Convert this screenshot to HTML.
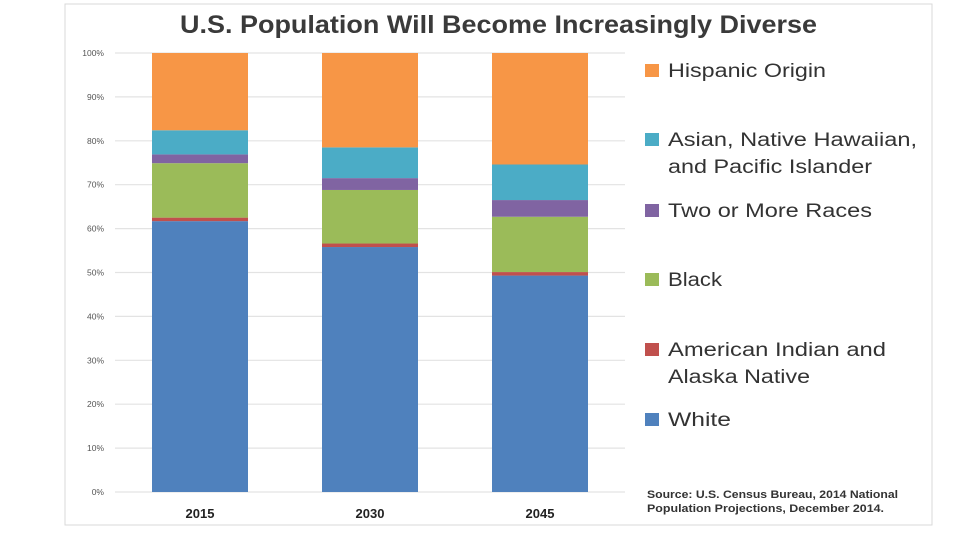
<!DOCTYPE html>
<html><head><meta charset="utf-8"><style>
body{margin:0;background:#fff;width:960px;height:540px;overflow:hidden;font-family:"Liberation Sans",sans-serif}
</style></head><body>
<svg width="960" height="540">
<rect x="65" y="4" width="867" height="521" fill="#fff" stroke="#d9d9d9"/>
<text x="180" y="33" font-size="25" font-weight="bold" fill="#3a3a3a" textLength="637" lengthAdjust="spacingAndGlyphs">U.S. Population Will Become Increasingly Diverse</text>
<g id="grid"></g><g id="bars"></g><g id="legend"></g>
<text x="647" y="498" font-size="11" font-weight="bold" fill="#333" textLength="251" lengthAdjust="spacingAndGlyphs">Source: U.S. Census Bureau, 2014 National</text>
<text x="647" y="512" font-size="11" font-weight="bold" fill="#333" textLength="237" lengthAdjust="spacingAndGlyphs">Population Projections, December 2014.</text>
</svg>
<script>
const years=["2015","2030","2045"];
const white=[61.7,55.8,49.3];
const amIndian=[0.8,0.8,0.8];
const black=[12.4,12.2,12.6];
const twoMore=[2.0,2.7,3.8];
const asian=[5.5,7.0,8.1];
const hispanic=[17.6,21.5,25.4];
const yTicks=[0,10,20,30,40,50,60,70,80,90,100];
const seriesNames=["White","American Indian and Alaska Native","Black","Two or More Races","Asian, Native Hawaiian, and Pacific Islander","Hispanic Origin"];
const colors=["#4f81bd","#c0504d","#9bbb59","#8064a2","#4bacc6","#f79646"];
const series=[white,amIndian,black,twoMore,asian,hispanic];
const ns="http://www.w3.org/2000/svg";
const y=v=>492-v*4.39;
const xc=i=>200+i*170;
const bw=96;
function mk(tag,attrs,parent){const e=document.createElementNS(ns,tag);for(const k in attrs)e.setAttribute(k,attrs[k]);parent.appendChild(e);return e;}
const grid=document.getElementById('grid');
yTicks.forEach(t=>{
 const l=mk('line',{x1:115,x2:625,y1:y(t),y2:y(t),stroke:'#e3e3e3','stroke-width':1.2},grid);
 
 
 const tx=mk('text',{x:104,y:y(t)+3,'text-anchor':'end','font-size':8.5,fill:'#555'},grid);
 tx.textContent=t+'%';
 
 
});
const bars=document.getElementById('bars');
years.forEach((yr,i)=>{
 let cum=0;
 series.forEach((s,j)=>{
  const r=mk('rect',{x:xc(i)-bw/2,y:y(cum+s[i]),width:bw,height:s[i]*4.39,fill:colors[j]},bars);
  
  
  cum+=s[i];
 });
 const t=mk('text',{x:xc(i),y:518,'text-anchor':'middle','font-size':13,'font-weight':'bold',fill:'#222'},bars);
 t.textContent=yr;
 
 
});
const legend=document.getElementById('legend');
const legItems=[[5,["Hispanic Origin"],[158],70],[4,["Asian, Native Hawaiian,","and Pacific Islander"],[249,204],139],[3,["Two or More Races"],[204],210],[2,["Black"],[54],279],[1,["American Indian and","Alaska Native"],[218,142],349],[0,["White"],[63],419]];
legItems.forEach(([j,lines,ws,yy])=>{
 const r=mk('rect',{x:645,y:yy-6,width:14,height:13,fill:colors[j]},legend);
 
 
 lines.forEach((ln,k)=>{
  const t=mk('text',{x:668,y:yy+7+k*27,'font-size':19,fill:'#333',textLength:ws[k],lengthAdjust:'spacingAndGlyphs'},legend);
  t.textContent=ln;
  
  
 });
});
</script>
</body></html>
